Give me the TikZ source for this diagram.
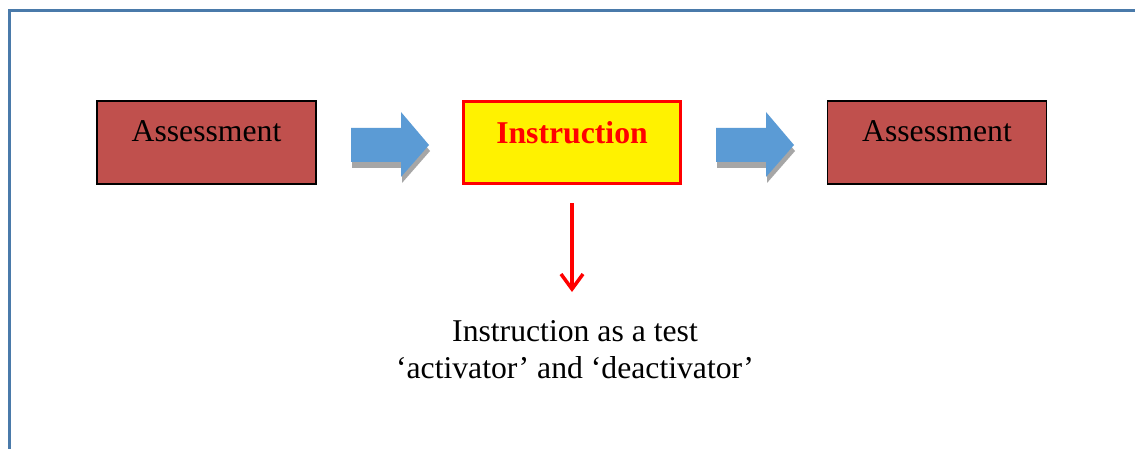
\documentclass[tikz,border=0pt]{standalone}
\usepackage{fontspec}
\setmainfont{Liberation Serif}
\usetikzlibrary{arrows.meta}

\definecolor{frameblue}{RGB}{74,122,170}
\definecolor{stagered}{RGB}{192,80,77}
\definecolor{arrowblue}{RGB}{91,155,213}
\definecolor{shadowgray}{RGB}{166,166,166}

\tikzset{
  x=1pt, y=-1pt,
  bodyfont/.style={font=\fontsize{31.7}{37.5}\selectfont},
  stage/.style={draw=black, line width=1.2pt, fill=stagered, bodyfont,
    minimum width=219pt, minimum height=83pt, inner sep=0pt,
    text height=22pt, text depth=23.6pt},
  focus/.style={draw=red, line width=3pt, fill=yellow, text=red,
    font=\fontsize{31.7}{37.5}\selectfont\bfseries,
    minimum width=217pt, minimum height=82pt, inner sep=0pt,
    text height=22pt, text depth=20.4pt},
  note/.style={bodyfont, align=center, inner sep=0pt, anchor=north},
  pointer/.style={draw=red, line width=3.5pt,
    -{Straight Barb[length=15pt, width=22pt]}},
  pics/blockarrow/.style={code={
    \fill[shadowgray] (1,6) -- (51,6) -- (51,-10) -- (79,23) -- (51,55)
      -- (51,40) -- (1,40) -- cycle;
    \fill[arrowblue] (0,0) -- (50,0) -- (50,-16) -- (78,17) -- (50,49)
      -- (50,34) -- (0,34) -- cycle;
  }}
}

\begin{document}
\begin{tikzpicture}
  \useasboundingbox (0,0) rectangle (1135,449);
  \fill[white] (0,0) rectangle (1135,449);

  % page frame
  \draw[frameblue, line width=3pt, line join=miter]
    (9.7,460) -- (9.7,11) -- (1145,11);

  % the three stages
  \node[stage] (pre)   at (206.5,142.5) {Assessment};
  \node[focus] (instr) at (572,142.5)   {Instruction};
  \node[stage] (post)  at (937,142.5)   {Assessment};

  % block arrows between the stages
  \pic at (351,128) {blockarrow};
  \pic at (716,128) {blockarrow};

  % explanation below the instruction stage
  \node[note] (role) at (575,320)
    {Instruction as a test\\‘activator’ and ‘deactivator’};

  \draw[pointer, shorten <=18.5pt, shorten >=28pt]
    (instr.south) -- (instr.south |- role.north);
\end{tikzpicture}
\end{document}
